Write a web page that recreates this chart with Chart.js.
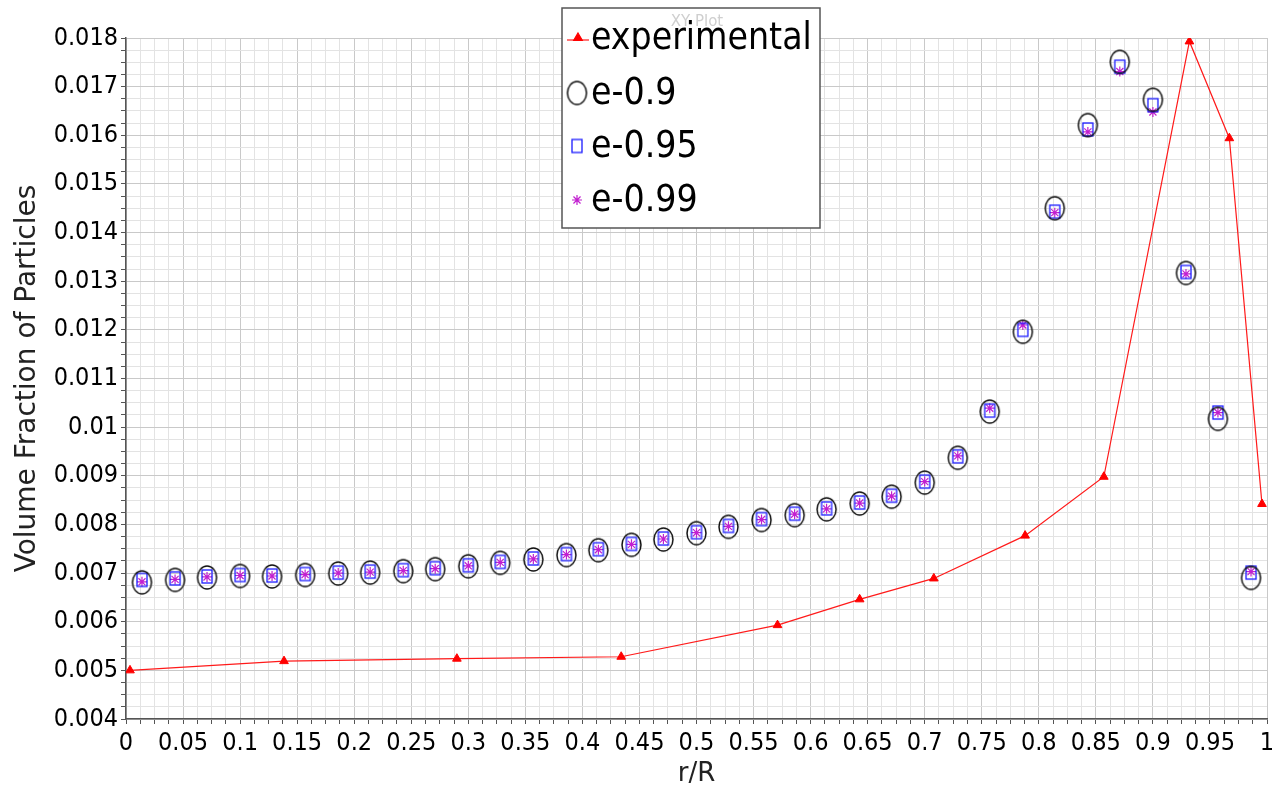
<!DOCTYPE html>
<html>
<head>
<meta charset="utf-8">
<script src="https://cdn.jsdelivr.net/npm/chart.js@4.4.1/dist/chart.umd.min.js"></script>
<style>
  html, body { margin: 0; padding: 0; background: #fff; }
  #wrap { width: 1272px; height: 790px; }
</style>
</head>
<body>
<div id="wrap"><canvas id="xyplot" width="1272" height="790"></canvas></div>
<script>
// r/R positions of the simulation cells
const simX = [0.014, 0.043, 0.071, 0.100, 0.128, 0.157, 0.186, 0.214, 0.243, 0.271,
  0.300, 0.328, 0.357, 0.386, 0.414, 0.443, 0.471, 0.500, 0.528, 0.557,
  0.586, 0.614, 0.643, 0.671, 0.700, 0.729, 0.757, 0.786, 0.814, 0.843,
  0.871, 0.900, 0.929, 0.957, 0.986];

const e09 = [0.00681, 0.00686, 0.00691, 0.00694, 0.00693, 0.00696, 0.00699, 0.00701, 0.00704, 0.00708,
  0.00714, 0.00721, 0.00728, 0.00737, 0.00747, 0.00758, 0.00769, 0.00782, 0.00795, 0.00809,
  0.00819, 0.00831, 0.00843, 0.00857, 0.00886, 0.00937, 0.01032, 0.01196, 0.01450, 0.01621,
  0.01751, 0.01673, 0.01317, 0.01017, 0.00690];

const e095 = [0.00686, 0.00689, 0.00693, 0.00696, 0.00695, 0.00698, 0.00701, 0.00703, 0.00706, 0.00710,
  0.00716, 0.00723, 0.00730, 0.00739, 0.00749, 0.00760, 0.00771, 0.00784, 0.00797, 0.00811,
  0.00822, 0.00833, 0.00845, 0.00859, 0.00888, 0.00940, 0.01034, 0.01200, 0.01443, 0.01612,
  0.01741, 0.01662, 0.01319, 0.01030, 0.00701];

const e099 = [0.00682, 0.00687, 0.00692, 0.00695, 0.00694, 0.00697, 0.00700, 0.00702, 0.00705, 0.00709,
  0.00715, 0.00722, 0.00729, 0.00738, 0.00748, 0.00759, 0.00770, 0.00783, 0.00796, 0.00810,
  0.00821, 0.00832, 0.00844, 0.00858, 0.00888, 0.00941, 0.01039, 0.01210, 0.01441, 0.01607,
  0.01731, 0.01648, 0.01315, 0.01030, 0.00703];

// experimental points
const expX = [0.0035, 0.1385, 0.290, 0.434, 0.571, 0.643, 0.708, 0.788, 0.857, 0.932, 0.967, 0.9956];
const expY = [0.00500, 0.00519, 0.00524, 0.00528, 0.00593, 0.00646, 0.00689, 0.00777, 0.00898, 0.01793, 0.01594, 0.00842];

const seriesNames = ['experimental', 'e-0.9', 'e-0.95', 'e-0.99'];
const xTitle = 'r/R';
const yTitle = 'Volume Fraction of Particles';
const plotTitle = 'XY Plot';

const tickFont = "'DejaVu Sans Condensed', 'Liberation Sans', sans-serif";

function pairs(xs, ys) {
  return xs.map((x, i) => ({ x: x, y: ys[i] }));
}

// open ellipse / rectangle markers drawn on small canvases
function ellipseMarker(w, h, color, lw) {
  const c = document.createElement('canvas');
  c.width = w + 4; c.height = h + 4;
  const g = c.getContext('2d');
  g.strokeStyle = color; g.lineWidth = lw;
  g.beginPath();
  g.ellipse(c.width / 2, c.height / 2, w / 2, h / 2, 0, 0, Math.PI * 2);
  g.stroke();
  return c;
}
function rectMarker(w, h, color, lw) {
  const c = document.createElement('canvas');
  c.width = w + 4; c.height = h + 4;
  const g = c.getContext('2d');
  g.strokeStyle = color; g.lineWidth = lw;
  g.strokeRect(2, 2, w, h);
  return c;
}

const circleImg = ellipseMarker(19, 23, '#111', 1.5);
const squareImg = rectMarker(10, 13, '#1a1aff', 1.3);

function isMult(v, step) {
  const r = v / step;
  return Math.abs(r - Math.round(r)) < 1e-6;
}

// legend box drawn inside the plot, like the original
const boxLegend = {
  id: 'boxLegend',
  afterDraw(chart) {
    const ctx = chart.ctx;
    const x0 = 562, y0 = 8, w = 258, h = 220;
    ctx.save();
    ctx.fillStyle = '#fff';
    ctx.fillRect(x0, y0, w, h);
    ctx.strokeStyle = '#555';
    ctx.lineWidth = 1.5;
    ctx.strokeRect(x0, y0, w, h);

    ctx.fillStyle = '#cfcfcf';
    ctx.font = "15px 'DejaVu Sans', sans-serif";
    ctx.textAlign = 'center';
    ctx.textBaseline = 'middle';
    ctx.fillText(plotTitle, 697, 22);

    const rows = [38, 93, 146, 200];
    chart.data.datasets.forEach((ds, i) => {
      const cy = rows[i];
      if (i === 0) {
        ctx.strokeStyle = ds.borderColor;
        ctx.lineWidth = 1.2;
        ctx.beginPath();
        ctx.moveTo(567, cy + 2); ctx.lineTo(589, cy + 2);
        ctx.stroke();
      }
      ctx.fillStyle = ds.pointBackgroundColor;
      ctx.strokeStyle = ds.pointBorderColor;
      Chart.helpers.drawPoint(ctx, {
        pointStyle: ds.pointStyle,
        radius: ds.pointRadius,
        borderWidth: ds.pointBorderWidth,
        rotation: 0
      }, i === 0 ? 578 : 577, cy);
      ctx.fillStyle = '#000';
      ctx.font = "37px " + tickFont;
      ctx.textAlign = 'left';
      ctx.textBaseline = 'middle';
      ctx.fillText(ds.label, 591, cy + 1);
    });
    ctx.restore();
  }
};

const ctx = document.getElementById('xyplot').getContext('2d');
const chart = new Chart(ctx, {
  type: 'scatter',
  data: {
    datasets: [
      {
        label: seriesNames[0],
        data: pairs(expX, expY),
        showLine: true,
        borderColor: '#ff1a1a',
        borderWidth: 1.2,
        pointStyle: 'triangle',
        pointRadius: 5,
        pointBorderWidth: 1,
        pointBackgroundColor: '#ff0000',
        pointBorderColor: '#ff0000',
        tension: 0
      },
      {
        label: seriesNames[1],
        data: pairs(simX, e09),
        showLine: false,
        pointStyle: circleImg,
        pointRadius: 10,
        pointBorderWidth: 1,
        pointBackgroundColor: 'rgba(0,0,0,0)',
        pointBorderColor: '#111'
      },
      {
        label: seriesNames[2],
        data: pairs(simX, e095),
        showLine: false,
        pointStyle: squareImg,
        pointRadius: 7,
        pointBorderWidth: 1,
        pointBackgroundColor: 'rgba(0,0,0,0)',
        pointBorderColor: '#1a1aff'
      },
      {
        label: seriesNames[3],
        data: pairs(simX, e099),
        showLine: false,
        pointStyle: 'star',
        pointRadius: 5,
        pointBorderWidth: 1.2,
        pointBackgroundColor: 'rgba(0,0,0,0)',
        pointBorderColor: '#c21fd0'
      }
    ]
  },
  options: {
    responsive: false,
    animation: false,
    layout: { autoPadding: false, padding: { top: 38, right: 5, left: 0, bottom: 0 } },
    plugins: {
      legend: { display: false },
      tooltip: { enabled: false }
    },
    scales: {
      x: {
        type: 'linear',
        min: 0,
        max: 1,
        afterFit(scale) {
          scale.height = 71;
          scale.paddingLeft = 0;
          scale.paddingRight = 0;
        },
        border: { display: true, color: '#555', width: 1.5 },
        grid: {
          color: c => isMult(c.tick.value, 0.05) ? '#c9c9c9' : '#e3e3e3',
          tickColor: '#555',
          tickLength: 5
        },
        ticks: {
          stepSize: 0.0125,
          autoSkip: false,
          maxRotation: 0,
          color: '#000',
          padding: 4,
          font: { family: tickFont, size: 25 },
          callback: v => isMult(v, 0.05) ? String(parseFloat(v.toFixed(2))) : ''
        },
        title: {
          display: true,
          text: xTitle,
          color: '#222',
          padding: { top: 0, bottom: 0 },
          font: { family: "'DejaVu Sans', sans-serif", size: 26 }
        }
      },
      y: {
        type: 'linear',
        min: 0.004,
        max: 0.018,
        afterFit(scale) { scale.width = 126; },
        border: { display: true, color: '#555', width: 1.5 },
        grid: {
          color: c => isMult(c.tick.value, 0.001) ? '#c9c9c9' : '#e3e3e3',
          tickColor: '#555',
          tickLength: 5
        },
        ticks: {
          stepSize: 0.00025,
          autoSkip: false,
          color: '#000',
          padding: 3,
          font: { family: tickFont, size: 25 },
          callback: v => isMult(v, 0.001) ? String(parseFloat(v.toFixed(3))) : ''
        },
        title: {
          display: true,
          text: yTitle,
          color: '#222',
          padding: { top: 11, bottom: 0 },
          font: { family: "'DejaVu Sans', sans-serif", size: 28 }
        }
      }
    }
  },
  plugins: [boxLegend]
});
</script>
</body>
</html>
